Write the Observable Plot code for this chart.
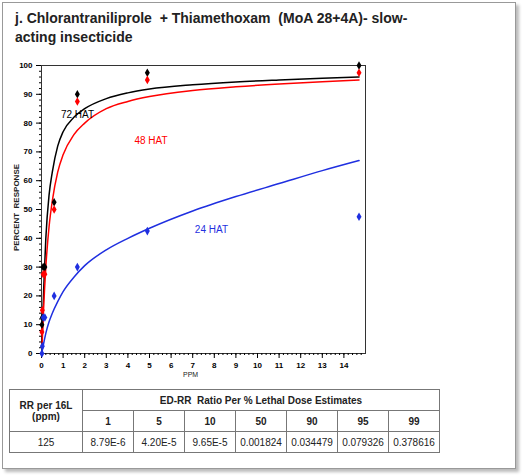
<!DOCTYPE html>
<html><head><meta charset="utf-8">
<script src="https://cdn.jsdelivr.net/npm/d3@7"></script>
<script src="https://cdn.jsdelivr.net/npm/@observablehq/plot@0.6"></script>
<style>
body{margin:0;background:#fff;font-family:Arial,"Liberation Sans",sans-serif}
#page{position:absolute;left:2px;top:2px;width:512px;height:465px;border:1px solid #999;box-shadow:3px 3px 3px #bbb;background:#fff}
#title{position:absolute;left:12px;top:6px;font-size:14px;font-weight:bold;line-height:19px;color:#222}
#chart{position:absolute;left:0;top:50px}
#ylab{position:absolute;left:-42px;top:200px;transform:rotate(-90deg);font-size:8px;font-weight:bold;color:#222;width:110px;text-align:center}
#xlab{position:absolute;left:180px;top:368px;font-size:7px;color:#222}
table{position:absolute;left:6px;top:386px;border-collapse:collapse;font-family:"Liberation Sans Narrow",Arial,sans-serif;font-size:10px;color:#222}
td{border:1px solid #777;text-align:center;height:20px;padding:0 4px}
</style></head><body>
<div id="page">
<div id="title">j. Chlorantraniliprole&nbsp; + Thiamethoxam&nbsp; (MoA 28+4A)- slow-<br>acting insecticide</div>
<div id="chart"></div>
<div id="ylab">PERCENT&nbsp; RESPONSE</div>
<div id="xlab">PPM</div>
<table>
<tr><td rowspan="2" style="width:64px;font-weight:bold">RR per 16L<br>(ppm)</td><td colspan="7" style="font-weight:bold">ED-RR&nbsp; Ratio Per % Lethal Dose Estimates</td></tr>
<tr id="hdr"></tr><tr id="vals"></tr>
</table>
</div>
<script>
const doses = [0.0195, 0.039, 0.078, 0.156, 0.586, 1.66, 4.9, 14.7];
const hat72 = [10, 12.5, 30, 30, 52.5, 90, 97.5, 100];
const hat48 = [7.5, 15, 27.5, 27.5, 50, 87.5, 95, 97.5];
const hat24 = [0, 2.5, 12.5, 12.5, 20, 30, 42.5, 47.5];
const curveX = [0.02, 0.05, 0.1, 0.2, 0.35, 0.5, 0.75, 1, 1.5, 2, 3, 4, 5, 7, 9, 11, 13, 14.7];
const curve72 = [3, 10, 22, 40, 55, 63, 72, 77, 82, 85, 88.5, 90.5, 91.8, 93.3, 94.3, 95, 95.6, 96];
const curve48 = [2, 7, 16, 30, 44, 53, 63, 69, 76, 80, 85, 87.5, 89.2, 91.3, 92.6, 93.6, 94.4, 95];
const curve24 = [0.3, 1.5, 3.5, 7, 11, 14, 18, 21.5, 26.5, 30.5, 36, 40, 43.5, 49.5, 54.5, 59, 63.5, 67];
const ldLevels = ["1", "5", "10", "50", "90", "95", "99"];
const ldValues = ["8.79E-6", "4.20E-5", "9.65E-5", "0.001824", "0.034479", "0.079326", "0.378616"];
const series = [
  {name: "72 HAT", y: hat72, c: curve72, color: "black", lx: 0.9, ly: 83},
  {name: "48 HAT", y: hat48, c: curve48, color: "red", lx: 4.3, ly: 74},
  {name: "24 HAT", y: hat24, c: curve24, color: "#1f2fe0", lx: 7.1, ly: 43}
];
const pts = series.flatMap(s => doses.map((d, i) => ({x: d, y: s.y[i], color: s.color})));
const lines = series.flatMap(s => curveX.map((d, i) => ({x: d, y: s.c[i], name: s.name, color: s.color})));
const labels = series.map(s => ({x: s.lx, y: s.ly, t: s.name, color: s.color}));

const chart = Plot.plot({
  width: 370, height: 330,
  marginLeft: 38, marginRight: 8, marginTop: 12, marginBottom: 30,
  style: {fontFamily: "Arial, sans-serif", fontSize: "8px", fontWeight: "bold"},
  x: {domain: [0, 15]},
  y: {domain: [0, 100]},
  marks: [
    Plot.frame({stroke: "#333"}),
    Plot.axisX(d3.range(0, 15, 0.2), {tickSize: 2, text: null, label: null}),
    Plot.axisY(d3.range(0, 100, 2), {tickSize: 2, text: null, label: null}),
    Plot.axisX(d3.range(0, 15), {tickSize: 5, label: null}),
    Plot.axisY(d3.range(0, 101, 10), {tickSize: 5, label: null}),
    Plot.line(lines, {x: "x", y: "y", z: "name", stroke: "color", strokeWidth: 1.5, curve: "monotone-x"}),
    Plot.dot(pts, {x: "x", y: "y", fill: "color", symbol: "diamond", r: 2.6}),
    Plot.text(labels, {x: "x", y: "y", text: "t", fill: "color", fontSize: 10, fontWeight: "normal", textAnchor: "start"})
  ]
});
d3.select("#chart").append(() => chart);
d3.select("#hdr").selectAll("td").data(ldLevels).join("td").style("font-weight", "bold").style("width", "42px").text(d => d);
d3.select("#vals").append("td").text("125");
d3.select("#vals").selectAll("td.v").data(ldValues).join("td").attr("class", "v").text(d => d);
</script>
</body></html>
